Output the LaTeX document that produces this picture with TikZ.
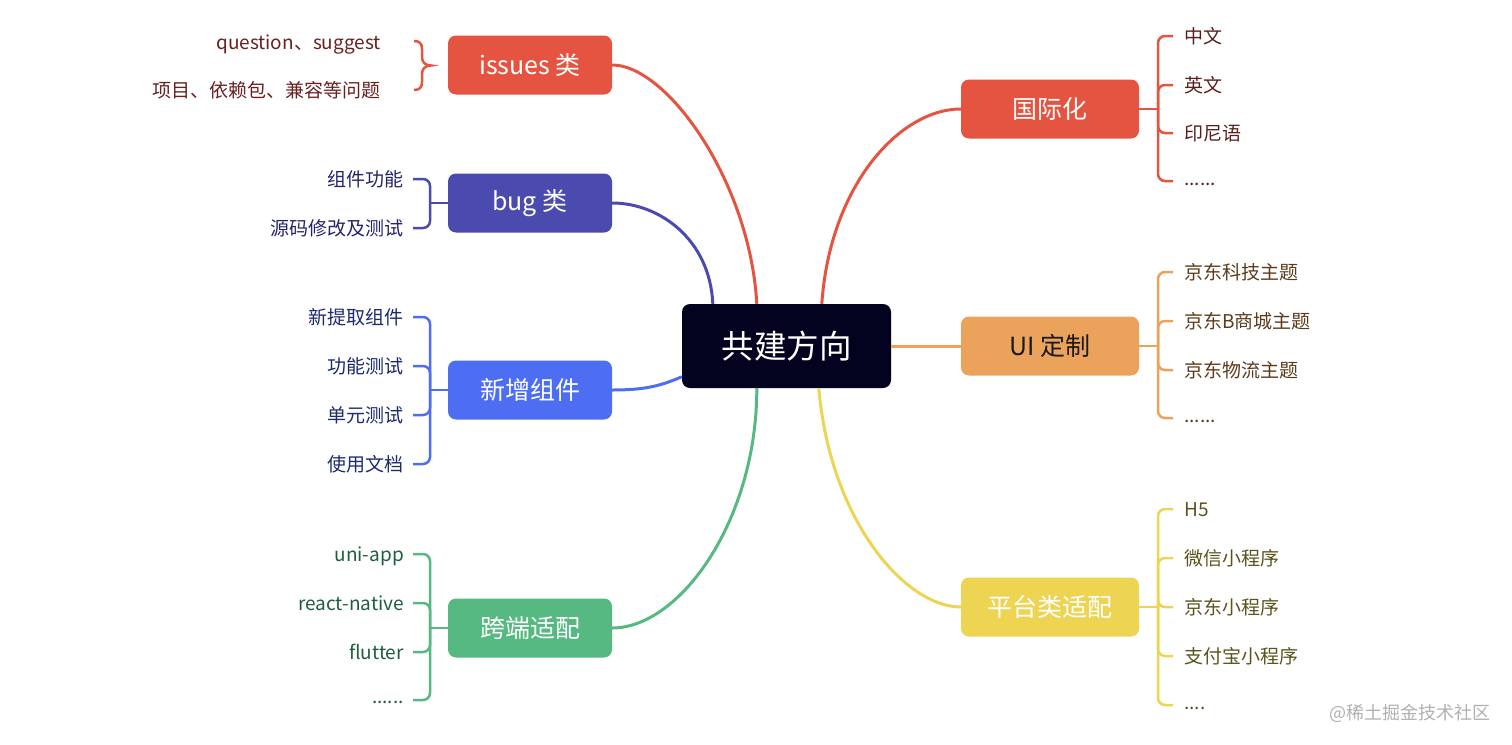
\documentclass[tikz,border=0pt]{standalone}
\usepackage{fontspec}
\setmainfont{Noto Sans CJK SC}
\usetikzlibrary{calc}
\definecolor{cred}{HTML}{E55441}
\definecolor{cindigo}{HTML}{4B4AAF}
\definecolor{cblue}{HTML}{4D6DF3}
\definecolor{cgreen}{HTML}{56B982}
\definecolor{corange}{HTML}{EBA35B}
\definecolor{cyellow}{HTML}{EDD452}
\definecolor{ccenter}{HTML}{03021F}
\definecolor{tred}{HTML}{6B1F1F}
\definecolor{tindigo}{HTML}{25246B}
\definecolor{tblue}{HTML}{1C2A6E}
\definecolor{tgreen}{HTML}{1F5E3C}
\definecolor{tintl}{HTML}{5A1E1E}
\definecolor{tui}{HTML}{5B3B1C}
\definecolor{tplat}{HTML}{5A531B}
\definecolor{wmark}{HTML}{B0B0B0}
\begin{document}
\begin{tikzpicture}[x=1pt,y=-1pt,
  box/.style={rounded corners=8pt, minimum width=164pt, minimum height=59pt, inner sep=0pt, text=white, font=\fontsize{25}{28}\selectfont},
  rbox/.style={box, minimum width=178pt},
  leaf/.style={font=\fontsize{19}{21}\selectfont, inner sep=0pt, text height=14.5pt, text depth=0pt},
  leafL/.style={leaf, anchor=east},
  leafR/.style={leaf, anchor=west},
  dotsL/.style={font=\fontsize{19}{21}\selectfont, inner sep=0pt, anchor=base east},
  dotsR/.style={font=\fontsize{19}{21}\selectfont, inner sep=0pt, anchor=base west},
  conn/.style={line width=3pt},
  br/.style={line width=2.5pt, rounded corners=7pt}]
\useasboundingbox (0,0) rectangle (1512,744);

% main nodes
\node[rounded corners=8pt, fill=ccenter, minimum width=209pt, minimum height=84pt, inner sep=0pt, text=white, font=\fontsize{32.5}{36}\selectfont] (ct) at (786.5,346) {共建方向};
\node[box, fill=cred] (is) at (530,65) {issues 类};
\node[box, fill=cindigo] (bug) at (530,203) {bug 类};
\node[box, fill=cblue] (nw) at (530,390) {新增组件};
\node[box, fill=cgreen] (cr) at (530,628) {跨端适配};
\node[rbox, fill=cred] (intl) at (1050,109) {国际化};
\node[rbox, fill=corange, text=black!90] (ui) at (1050,346) {UI 定制};
\node[rbox, fill=cyellow] (pf) at (1050,607) {平台类适配};

% connectors from centre
\draw[conn, cred] (is.east) .. controls (667,65) and (750,182) .. ($(ct.north west)+(75,0)$);
\draw[conn, cindigo] (bug.east) .. controls (660,203) and (710,240) .. ($(ct.north west)+(31,0)$);
\draw[conn, cblue] (nw.east) .. controls (645,390) and (660,386) .. ($(ct.north west)+(0,73)$);
\draw[conn, cgreen] (cr.east) .. controls (680,628) and (757,520) .. ($(ct.south west)+(75,0)$);
\draw[conn, cred] (intl.west) .. controls (900,109) and (830,185) .. ($(ct.north west)+(140,0)$);
\draw[conn, corange] (ct.east) -- (ui.west);
\draw[conn, cyellow] (pf.west) .. controls (905,607) and (830,520) .. ($(ct.south west)+(137,0)$);

% issues leaves with brace
\node[leafL, text=tred] (is1) at (381,42) {question、suggest};
\node[leafL, text=tred] (is2) at (381,90) {项目、依赖包、兼容等问题};
\coordinate (isb1) at (414,41);
\coordinate (isb2) at (414,90);
\coordinate (istip) at (431,65.5);
\draw[line width=2.5pt, cred] (isb1) .. controls (420,41) and (422,44) .. (422,49) -- (422,57)
  .. controls (422,62) and (425,65.5) .. (istip)
  .. controls (425,65.5) and (422,69) .. (422,74) -- (422,82)
  .. controls (422,87) and (420,90) .. (isb2);

% bug leaves
\coordinate (bj) at (430,203);
\node[leafL, text=tindigo] (b1) at (404,179) {组件功能};
\node[leafL, text=tindigo] (b2) at (404,228) {源码修改及测试};
\draw[conn, cindigo, line width=2.5pt] (bug.west) -- (bj);
\foreach \y in {179,228} \draw[br, cindigo] (bj) -- (430,\y) -- (413,\y);

% new component leaves
\coordinate (nj) at (430,390);
\node[leafL, text=tblue] (n1) at (404,317) {新提取组件};
\node[leafL, text=tblue] (n2) at (404,366) {功能测试};
\node[leafL, text=tblue] (n3) at (404,415) {单元测试};
\node[leafL, text=tblue] (n4) at (404,464) {使用文档};
\draw[conn, cblue, line width=2.5pt] (nw.west) -- (nj);
\foreach \y in {317,366,415,464} \draw[br, cblue] (nj) -- (430,\y) -- (413,\y);

% cross-platform leaves
\coordinate (cj) at (430,628);
\node[leafL, text=tgreen] (c1) at (404,554) {uni-app};
\node[leafL, text=tgreen] (c2) at (404,603) {react-native};
\node[leafL, text=tgreen] (c3) at (404,652) {flutter};
\node[dotsL, text=tgreen] (c4) at (404,703) {......};
\draw[conn, cgreen, line width=2.5pt] (cr.west) -- (cj);
\foreach \y in {554,603,652,700} \draw[br, cgreen] (cj) -- (430,\y) -- (413,\y);

% i18n leaves
\coordinate (ij) at (1158,109);
\node[leafR, text=tintl] (i1) at (1184,36) {中文};
\node[leafR, text=tintl] (i2) at (1184,85) {英文};
\node[leafR, text=tintl] (i3) at (1184,133) {印尼语};
\node[dotsR, text=tintl] (i4) at (1184,185) {......};
\draw[conn, cred, line width=2.5pt] (intl.east) -- (ij);
\foreach \y in {36,85,133,181} \draw[br, cred] (ij) -- (1158,\y) -- (1173,\y);

% UI leaves
\coordinate (uj) at (1158,346);
\node[leafR, text=tui] (u1) at (1184,272) {京东科技主题};
\node[leafR, text=tui] (u2) at (1184,321) {京东B商城主题};
\node[leafR, text=tui] (u3) at (1184,370) {京东物流主题};
\node[dotsR, text=tui] (u4) at (1184,422) {......};
\draw[conn, corange, line width=2.5pt] (ui.east) -- (uj);
\foreach \y in {272,321,370,418} \draw[br, corange] (uj) -- (1158,\y) -- (1173,\y);

% platform leaves
\coordinate (pj) at (1158,607);
\node[leafR, text=tplat] (p1) at (1184,509) {H5};
\node[leafR, text=tplat] (p2) at (1184,558) {微信小程序};
\node[leafR, text=tplat] (p3) at (1184,607) {京东小程序};
\node[leafR, text=tplat] (p4) at (1184,656) {支付宝小程序};
\node[dotsR, text=tplat] (p5) at (1184,709) {....};
\draw[conn, cyellow, line width=2.5pt] (pf.east) -- (pj);
\foreach \y in {509,558,607,656,705} \draw[br, cyellow] (pj) -- (1158,\y) -- (1173,\y);

% watermark
\node[anchor=east, inner sep=0pt, text=wmark, font=\fontsize{18}{20}\selectfont] (wm) at (1491,713) {@稀土掘金技术社区};
\end{tikzpicture}
\end{document}
